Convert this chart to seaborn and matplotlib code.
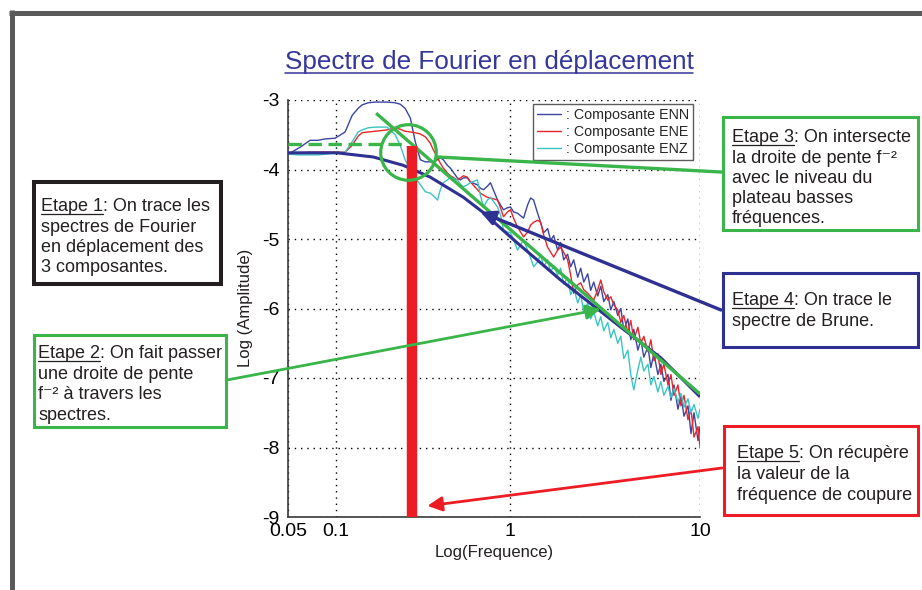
import numpy as np
import pandas as pd
import matplotlib
matplotlib.use("Agg")
import matplotlib.pyplot as plt
import seaborn as sns
from matplotlib.lines import Line2D
from matplotlib.patches import Rectangle
from matplotlib.ticker import NullLocator, FixedLocator, FixedFormatter

# ---------------- data ----------------
freq = [0.05, 0.0595, 0.0687, 0.0771, 0.0853, 0.0986,
        0.1127, 0.1238, 0.134, 0.1413, 0.153, 0.168,
        0.197, 0.219, 0.234, 0.250, 0.268, 0.286,
        0.306, 0.327, 0.349, 0.364, 0.384, 0.399,
        0.415, 0.438, 0.456, 0.500, 0.521, 0.542,
        0.571, 0.595, 0.653, 0.679, 0.708, 0.746,
        0.776, 0.853, 0.887, 0.923, 0.973, 1.012,
        1.050, 1.102, 1.185, 1.244, 1.290, 1.338,
        1.404, 1.456, 1.510, 1.585, 1.644, 1.705,
        1.789, 1.854, 1.924, 2.018, 2.094, 2.172,
        2.280, 2.364, 2.453, 2.574, 2.667, 2.767,
        2.904, 3.013, 3.124, 3.28, 3.40, 3.53,
        3.70, 3.84, 3.98, 4.18, 4.33, 4.49,
        4.72, 4.89, 5.07, 5.33, 5.52, 5.73,
        6.01, 6.23, 6.46, 6.79, 7.04, 7.30,
        7.66, 7.94, 8.24, 8.65, 8.97, 9.30,
        9.76, 10.0]

enn = [-3.78, -3.68, -3.58, -3.58, -3.56, -3.55,
       -3.46, -3.22, -3.12, -3.07, -3.04, -3.03,
       -3.03, -3.04, -3.06, -3.12, -3.26, -3.60,
       -3.86, -3.89, -3.89, -3.89, -3.86, -3.83,
       -3.86, -3.94, -3.98, -4.12, -4.15, -4.12,
       -4.12, -4.18, -4.22, -4.27, -4.29, -4.24,
       -4.19, -4.44, -4.51, -4.58, -4.55, -4.54,
       -4.61, -4.63, -4.70, -4.51, -4.41, -4.44,
       -4.63, -4.76, -4.91, -4.85, -5.02, -4.95,
       -5.16, -5.05, -5.30, -5.22, -5.40, -5.30,
       -5.55, -5.42, -5.62, -5.50, -5.74, -5.62,
       -5.82, -5.68, -5.90, -5.80, -6.02, -5.90,
       -6.10, -6.00, -6.31, -6.15, -6.45, -6.30,
       -6.60, -6.45, -6.70, -6.55, -6.85, -6.65,
       -6.95, -6.80, -7.05, -6.95, -7.32, -7.10,
       -7.45, -7.25, -7.55, -7.40, -7.80, -7.50,
       -7.90, -7.70]

ene = [-3.78, -3.76, -3.75, -3.75, -3.75, -3.75,
       -3.75, -3.65, -3.52, -3.47, -3.46, -3.45,
       -3.43, -3.40, -3.42, -3.45, -3.46, -3.47,
       -3.49, -3.53, -3.62, -3.72, -3.83, -3.91,
       -3.98, -4.05, -4.09, -4.15, -4.12, -4.09,
       -4.11, -4.18, -4.29, -4.34, -4.37, -4.40,
       -4.41, -4.44, -4.55, -4.68, -4.61, -4.58,
       -4.70, -4.83, -4.97, -4.90, -4.80, -4.76,
       -4.73, -4.76, -4.94, -5.12, -5.19, -5.26,
       -5.16, -5.12, -5.19, -5.30, -5.52, -5.78,
       -5.66, -5.63, -5.73, -5.78, -5.83, -5.88,
       -5.73, -5.59, -5.76, -5.88, -5.83, -5.95,
       -6.02, -6.20, -6.10, -6.35, -6.17, -6.45,
       -6.27, -6.50, -6.40, -6.62, -6.45, -6.75,
       -6.65, -6.95, -6.80, -7.10, -6.95, -7.25,
       -7.10, -7.40, -7.25, -7.60, -7.45, -7.85,
       -7.70, -8.00]

enz = [-3.78, -3.79, -3.79, -3.79, -3.78, -3.76,
       -3.75, -3.60, -3.46, -3.43, -3.40, -3.39,
       -3.39, -3.50, -3.65, -3.86, -4.01, -4.12,
       -4.22, -4.32, -4.34, -4.38, -4.44, -4.29,
       -4.19, -4.15, -4.11, -4.15, -4.21, -4.25,
       -4.22, -4.19, -4.15, -4.37, -4.54, -4.44,
       -4.40, -4.54, -4.65, -4.87, -4.90, -4.91,
       -5.01, -5.16, -5.01, -5.16, -5.27, -5.40,
       -5.33, -5.22, -5.40, -5.30, -5.48, -5.38,
       -5.52, -5.42, -5.65, -5.55, -5.80, -5.70,
       -5.92, -5.80, -6.05, -5.92, -6.15, -6.05,
       -6.25, -6.12, -6.32, -6.20, -6.42, -6.30,
       -6.50, -6.40, -6.72, -6.60, -6.95, -7.17,
       -6.88, -6.70, -6.90, -6.80, -7.10, -6.98,
       -7.20, -7.05, -7.25, -7.12, -7.28, -7.15,
       -7.35, -7.22, -7.42, -7.30, -7.50, -7.38,
       -7.58, -7.45]

components = [": Composante ENN", ": Composante ENE", ": Composante ENZ"]

brune_freq = [0.05, 0.1013, 0.1637, 0.2438, 0.349, 0.542, 0.698, 1.050, 1.854, 3.84, 6.23, 10.0]
brune_amp = [-3.76, -3.76, -3.82, -3.94, -4.11, -4.40, -4.61, -5.01, -5.59, -6.27, -6.71, -7.27]

slope_freq = [0.170, 10.0]
slope_amp = [-3.19, -7.23]

plateau_freq = [0.05, 0.26]
plateau_amp = [-3.64, -3.64]

fc = 0.274          # fréquence de coupure
fc_top = -3.66
circle_center = (0.2606, -3.75)

arrow_green_tip = (3.013, -6.01)
arrow_blue_tip = (0.679, -4.61)
arrow_red_tip = (0.336, -8.84)
line_green_end = (0.384, -3.82)

x_ticks = [0.05, 0.1, 1, 10]
x_ticklabels = ["0.05", "0.1", "1", "10"]
y_ticks = [-3, -4, -5, -6, -7, -8, -9]
y_ticklabels = ["-3", "-4", "-5", "-6", "-7", "-8", "-9"]

title = "Spectre de Fourier en déplacement"
steps = [
    ["Etape 1: On trace les", "spectres de Fourier", "en déplacement des", "3 composantes."],
    ["Etape 2: On fait passer", "une droite de pente", "f⁻² à travers les", "spectres."],
    ["Etape 3: On intersecte", "la droite de pente f⁻²", "avec le niveau du", "plateau basses", "fréquences."],
    ["Etape 4: On trace le", "spectre de Brune."],
    ["Etape 5: On récupère", "la valeur de la", "fréquence de coupure"],
]
step_labels = ["Etape 1", "Etape 2", "Etape 3", "Etape 4", "Etape 5"]

# ---------------- style ----------------
sns.set_style("white")
plt.rcParams["font.family"] = ["Liberation Sans", "DejaVu Sans"]

W, H = 922, 590
fig = plt.figure(figsize=(W / 100, H / 100), dpi=100)
fig.patch.set_facecolor("white")

ax = fig.add_axes([288 / W, 1 - 517 / H, 412 / W, 417 / H])

# axis scale reproducing the reference's log frequency axis
def fwd(x):
    l = np.log10(np.maximum(np.asarray(x, dtype=float), 1e-12))
    return np.where(l < -1, (l + 1.30103) * 48 / 0.30103,
                    np.where(l < 0, 48 + (l + 1) * 173, 221 + l * 190))

def inv(p):
    p = np.asarray(p, dtype=float)
    l = np.where(p < 48, p * 0.30103 / 48 - 1.30103,
                 np.where(p < 221, (p - 48) / 173 - 1, (p - 221) / 190))
    return 10 ** l

ax.set_xscale("function", functions=(fwd, inv))

GREEN = "#39b54a"
BLUE = "#2e3192"
RED = "#ed1c24"
TXT = "#231f20"

n = len(freq)
df = pd.DataFrame({
    "Frequence": freq * 3,
    "Amplitude": enn + ene + enz,
    "Composante": [components[0]] * n + [components[1]] * n + [components[2]] * n,
})
sns.lineplot(data=df, x="Frequence", y="Amplitude", hue="Composante",
             hue_order=components, palette=["#3a46a0", "#e8262a", "#3cc4c4"],
             estimator=None, sort=False, linewidth=1.0, ax=ax, zorder=2)

leg = ax.get_legend()
handles = leg.legend_handles
labels = [t.get_text() for t in leg.get_texts()]
leg.remove()

ax.plot(brune_freq, brune_amp, color=BLUE, lw=2.2, zorder=4, solid_capstyle="butt")
ax.plot(slope_freq, slope_amp, color=GREEN, lw=2.4, zorder=4, solid_capstyle="butt")
ax.plot(plateau_freq, plateau_amp, color=GREEN, lw=2.4, ls=(0, (4, 2)), zorder=4)
ax.vlines(fc, -9, fc_top, color=RED, lw=7.5, zorder=5, capstyle="butt")
ax.plot([circle_center[0]], [circle_center[1]], marker="o", ms=40, mfc="none",
        mec=GREEN, mew=2.3, zorder=6, clip_on=False)

ax.set_xlim(0.05, 10)
ax.set_ylim(-9, -3)
ax.xaxis.set_major_locator(FixedLocator(x_ticks))
ax.xaxis.set_major_formatter(FixedFormatter(x_ticklabels))
ax.xaxis.set_minor_locator(NullLocator())
ax.yaxis.set_major_locator(FixedLocator(y_ticks))
ax.yaxis.set_major_formatter(FixedFormatter(y_ticklabels))
ax.tick_params(axis="both", direction="in", length=0, labelsize=14, pad=6, colors="black")
ax.tick_params(axis="x", pad=4)
ax.grid(True, color="black", linestyle=(0, (1, 3.5)), lw=1.0)
for s in ["top", "right"]:
    ax.spines[s].set_visible(False)
for s in ["left", "bottom"]:
    ax.spines[s].set_color("#3a3a3a")
    ax.spines[s].set_linewidth(1.2)
ax.set_xlabel("")
ax.set_ylabel("")

lg = ax.legend(handles, labels, loc="upper right", bbox_to_anchor=(0.983, 0.99),
               borderaxespad=0, fontsize=10.3, frameon=True, fancybox=False,
               handlelength=1.7, handletextpad=0.3, labelspacing=0.2, borderpad=0.3)
lg.get_frame().set_edgecolor("#333333")
lg.get_frame().set_linewidth(1.0)
for h in lg.legend_handles:
    h.set_linewidth(1.0)

fig.text(245 / W, 1 - 308 / H, "Log (Amplitude)", rotation=90, ha="center", va="center",
         fontsize=12, color=TXT)
fig.text(494 / W, 1 - 553 / H, "Log(Frequence)", ha="center", va="center",
         fontsize=12, color=TXT)

# ---------------- annotations ----------------
def arrow(tip, start_px, color, lw, style="-|>"):
    ax.annotate("", xy=tip, xycoords="data",
                xytext=(start_px[0] / W, 1 - start_px[1] / H), textcoords="figure fraction",
                arrowprops=dict(arrowstyle=style, color=color, lw=lw, mutation_scale=22,
                                shrinkA=0, shrinkB=0),
                annotation_clip=False, zorder=8)

arrow(arrow_green_tip, (227, 380), GREEN, 2.0)
arrow(arrow_blue_tip, (721, 310), BLUE, 2.4)
arrow(arrow_red_tip, (722, 468), RED, 2.0)
arrow(line_green_end, (721, 172), GREEN, 2.4, style="-")

boxes = [
    ((34, 182, 221, 284), TXT, 2.9, 41, [211, 232, 252, 272]),
    ((33.5, 334.5, 225.5, 426.5), GREEN, 2.2, 38, [358, 379, 399, 420]),
    ((722.5, 116.5, 917.5, 229.5), GREEN, 2.2, 732, [142, 163, 183, 203, 223]),
    ((722.5, 272.5, 917.5, 346.5), BLUE, 2.2, 732, [305, 326]),
    ((723.5, 425.5, 917.5, 514.5), RED, 2.2, 737, [458, 479, 500]),
]

for (x0, y0, x1, y1), ec, lw, tx, bases in boxes:
    fig.add_artist(Rectangle((x0 / W, 1 - y1 / H), (x1 - x0) / W, (y1 - y0) / H,
                             transform=fig.transFigure, fill=False, edgecolor=ec, lw=lw,
                             facecolor="none", zorder=3))

fig.canvas.draw()
renderer = fig.canvas.get_renderer()

BOX_FS = 13
for (box, lines, lab) in zip(boxes, steps, step_labels):
    (_, _, _, _), ec, lw, tx, bases = box
    for line, b in zip(lines, bases):
        fig.text(tx / W, 1 - b / H, line, fontsize=BOX_FS, va="baseline", ha="left", color=TXT)
    tmp = fig.text(tx / W, 1 - bases[0] / H, lab, fontsize=BOX_FS, va="baseline", ha="left")
    bb = tmp.get_window_extent(renderer)
    tmp.remove()
    yy = 1 - (bases[0] + 2.5) / H
    fig.add_artist(Line2D([bb.x0 / W, bb.x1 / W], [yy, yy], transform=fig.transFigure,
                          color=TXT, lw=0.9))

t = fig.text(489 / W, 1 - 69 / H, title, fontsize=18.8, ha="center", va="baseline", color="#35379a")
bb = t.get_window_extent(renderer)
yy = 1 - 72.5 / H
fig.add_artist(Line2D([bb.x0 / W, bb.x1 / W], [yy, yy], transform=fig.transFigure,
                      color="#35379a", lw=1.1))

# slide frame
fig.add_artist(Line2D([11.5 / W, 11.5 / W], [0, 1 - 10 / H], transform=fig.transFigure,
                      color="#5a5a5a", lw=3.6, solid_capstyle="butt"))
fig.add_artist(Line2D([9 / W, 1], [1 - 12.5 / H, 1 - 12.5 / H], transform=fig.transFigure,
                      color="#5a5a5a", lw=3.6, solid_capstyle="butt"))

fig.savefig("out.png", dpi=100)
